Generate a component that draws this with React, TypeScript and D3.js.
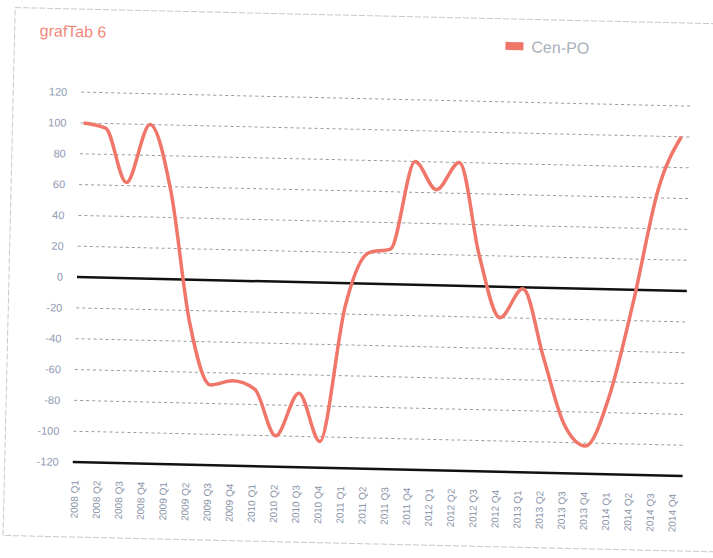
import React from "react";
import * as d3 from "d3";

const years = ["2008", "2009", "2010", "2011", "2012", "2013", "2014"];
const quarters = ["Q1", "Q2", "Q3", "Q4"];
const categories: string[] = years.flatMap((y) => quarters.map((q) => `${y} ${q}`));

const cenPO: number[] = [
  100, 97, 62, 100, 58, -28, -68, -65, -70, -100, -72, -103, -15, 20,
  23, 80, 62, 80, 20, -20, -1, -45, -88, -102, -70, -8, 65, 100,
];

const yTicks: number[] = [120, 100, 80, 60, 40, 20, 0, -20, -40, -60, -80, -100, -120];

const title = "grafTab 6";
const seriesName = "Cen-PO";

export default function App() {
  const W = 713;
  const H = 558;
  const x = d3.scalePoint<string>().domain(categories).range([80, 678]);
  const y = d3.scaleLinear().domain([-120, 120]).range([462, 92]);
  const line = d3
    .line<number>()
    .x((_, i) => x(categories[i]) as number)
    .y((d) => y(d))
    .curve(d3.curveMonotoneX);
  const red = "#f0766a";
  const font = "'Liberation Sans', Arial, sans-serif";

  return (
    <svg
      width={W}
      height={H}
      style={{ position: "absolute", left: 0, top: 0, background: "#fff" }}
    >
      <g transform="rotate(1.32, 75, 277)">
        <rect x={9} y={9} width={720} height={528} fill="none" stroke="#c8c8c8" strokeWidth={1} strokeDasharray="6 2" />
        <text x={34} y={37} fontFamily={font} fontSize={16} fill="#f2877c">
          {title}
        </text>
        <rect x={500} y={32} width={18} height={8} fill={red} />
        <text x={526} y={42} fontFamily={font} fontSize={16} fill="#a9afb8">
          {seriesName}
        </text>
        {yTicks.map((t) => (
          <g key={t}>
            <line
              x1={77}
              x2={687}
              y1={y(t)}
              y2={y(t)}
              stroke={t === 0 || t === -120 ? "#111" : "#9a9a9a"}
              strokeWidth={t === 0 || t === -120 ? 2.5 : 1}
              strokeDasharray={t === 0 || t === -120 ? undefined : "3 3"}
            />
            <text
              x={63}
              y={y(t) + 4}
              textAnchor="end"
              fontFamily={font}
              fontSize={11}
              fill="#8f9ab5"
            >
              {t}
            </text>
          </g>
        ))}
        <path d={line(cenPO) || ""} fill="none" stroke={red} strokeWidth={3.5} strokeLinejoin="round" />
        {categories.map((c) => (
          <text
            key={c}
            transform={`translate(${(x(c) as number) + 3}, 480) rotate(-90)`}
            textAnchor="end"
            fontFamily={font}
            fontSize={10}
            fill="#8a94a8"
          >
            {c}
          </text>
        ))}
      </g>
    </svg>
  );
}
